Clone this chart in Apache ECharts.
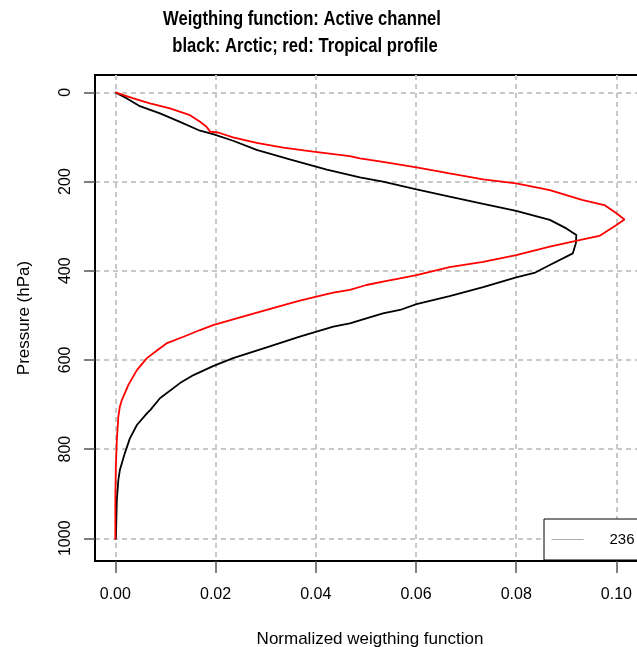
<!DOCTYPE html>
<html><head><meta charset="utf-8">
<script src="https://cdn.jsdelivr.net/npm/echarts@6/dist/echarts.min.js"></script>
<style>html,body{margin:0;padding:0;background:#fff}#c{width:637px;height:647px}</style>
</head><body><div id="c"></div>
<script>
// Arctic profile (black)
const arcticPressure = [0,13.5,31,47,66,86,93.5,108.5,129,150,173,190.6,200,217.5,234,250,265.5,286,305,320,338.6,361,387,404,415,437,456.7,474.7,488,495.5,507,518,525.5,548,572,596,614,634,652,686,712,720,746,776,809,847,869,914,1003];
const arcticWeight   = [0,0.0023,0.0049,0.0089,0.0129,0.0169,0.0195,0.0235,0.0282,0.0348,0.0422,0.0488,0.0534,0.0601,0.0667,0.0734,0.0800,0.0867,0.0900,0.0920,0.0919,0.0913,0.0867,0.0838,0.0800,0.0734,0.0667,0.0601,0.0568,0.0534,0.0501,0.0468,0.0435,0.0368,0.0302,0.0235,0.0195,0.0156,0.0129,0.0089,0.0070,0.0063,0.0043,0.0029,0.0019,0.0009,0.0006,0.0003,0.0001];
// Tropical profile (red)
const tropicalPressure = [0,13.5,24.7,36,51,66,77,88,90,101,113,124,133,143,148,155.6,168,181.6,195,204,219,241.5,252.7,271,285,297.5,322,329.6,346,365,380,392,409.6,417,424.6,432,443,449,467,488,509,522,533,548,563,579,596,623,656,690,705,727,780,839,914,1003];
const tropicalWeight   = [0,0.0036,0.0069,0.0109,0.0149,0.0169,0.0182,0.0189,0.0205,0.0235,0.0282,0.0335,0.0395,0.0468,0.0488,0.0534,0.0601,0.0667,0.0734,0.0800,0.0867,0.0933,0.0976,0.1000,0.1016,0.1000,0.0966,0.0933,0.0867,0.0800,0.0734,0.0667,0.0601,0.0568,0.0534,0.0501,0.0468,0.0435,0.0368,0.0302,0.0235,0.0195,0.0169,0.0136,0.0102,0.0083,0.0063,0.0043,0.0026,0.0013,0.0009,0.0006,0.0003,0.0001,0.0,0.0];
const xTicks = [0,0.02,0.04,0.06,0.08,0.10];
const yTicks = [0,200,400,600,800,1000];
const legendNames = ['236'];
const titleLines = ['Weigthing function: Active channel','black: Arctic; red: Tropical profile'];

const zip = (xs, ys) => xs.map((x, i) => [x, ys[i]]);
const FF = '"Liberation Sans", Arial, sans-serif';
const titleStyle = {align: 'center', verticalAlign: 'middle', fontSize: 20, fontWeight: 'bold', fontFamily: FF, fill: '#000'};
const chart = echarts.init(document.getElementById('c'), null, {renderer: 'canvas'});
chart.setOption({
  animation: false,
  backgroundColor: '#fff',
  grid: {left: 95, top: 75, width: 550, height: 486, show: true, borderColor: '#000', borderWidth: 2, backgroundColor: 'transparent', outerBoundsMode: 'none', containLabel: false},
  graphic: [
    {type: 'text', x: 302, y: 19.5, scaleX: 0.832, style: Object.assign({text: titleLines[0]}, titleStyle)},
    {type: 'text', x: 305, y: 46, scaleX: 0.832, style: Object.assign({text: titleLines[1]}, titleStyle)}
  ],
  legend: {
    show: true, data: legendNames, left: 544, top: 519, orient: 'horizontal',
    padding: [13, 40, 13, 7], itemWidth: 32, itemHeight: 14,
    borderColor: '#000', borderWidth: 1, backgroundColor: '#fff', selectedMode: false,
    itemStyle: {opacity: 0},
    lineStyle: {color: '#aaa', width: 1},
    textStyle: {fontSize: 15, color: '#000', fontFamily: FF, padding: [0, 0, 0, 21]}
  },
  xAxis: {
    type: 'value', min: -0.00406, max: 0.1057, position: 'bottom',
    axisLine: {show: true, onZero: false, lineStyle: {color: '#000', width: 2}},
    axisTick: {show: true, length: 12, customValues: xTicks, lineStyle: {color: '#555', width: 1.5}},
    axisLabel: {customValues: xTicks, formatter: v => v.toFixed(2), margin: 26, fontSize: 16, color: '#000', fontFamily: FF},
    splitLine: {show: true, lineStyle: {color: '#c8c8c8', type: [5, 4], width: 2}},
    name: 'Normalized weigthing function', nameLocation: 'middle', nameGap: 70,
    nameTextStyle: {fontSize: 17, color: '#000', fontFamily: FF}
  },
  yAxis: {
    type: 'value', inverse: true, min: -39, max: 1051,
    axisLine: {show: true, onZero: false, lineStyle: {color: '#000', width: 2}},
    axisTick: {show: true, length: 11, customValues: yTicks, lineStyle: {color: '#555', width: 1.5}},
    axisLabel: {customValues: yTicks, formatter: v => String(v), rotate: 90, margin: 21, fontSize: 16, color: '#000', fontFamily: FF},
    splitLine: {show: true, lineStyle: {color: '#c8c8c8', type: [5, 4], width: 2}},
    name: 'Pressure (hPa)', nameLocation: 'middle', nameGap: 62, nameRotate: 90,
    nameTextStyle: {fontSize: 17, color: '#000', fontFamily: FF}
  },
  series: [
    {name: 'Arctic', type: 'line', data: zip(arcticWeight, arcticPressure), symbol: 'none', lineStyle: {color: '#000', width: 1.8}, z: 3},
    {name: 'Tropical', type: 'line', data: zip(tropicalWeight, tropicalPressure), symbol: 'none', lineStyle: {color: '#ff0000', width: 1.8}, z: 4},
    {name: legendNames[0], type: 'line', data: [], symbol: 'none', lineStyle: {color: '#aaa', width: 1}, itemStyle: {color: '#aaa'}}
  ]
});
</script></body></html>
